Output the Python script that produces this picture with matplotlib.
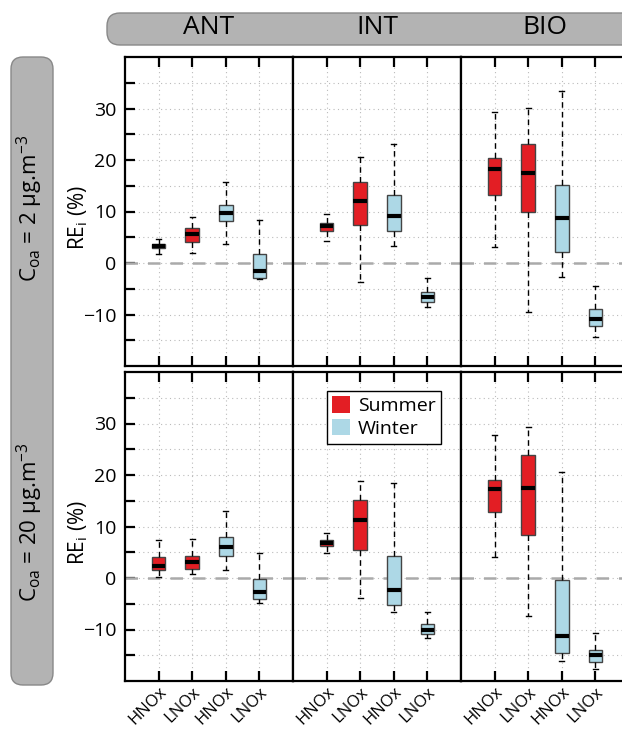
import numpy as np
import matplotlib
matplotlib.use("Agg")
from matplotlib import pyplot as plt
from matplotlib.patches import FancyBboxPatch, Patch

plt.rcParams['font.family'] = ['Open Sans', 'DejaVu Sans']
plt.rcParams['mathtext.default'] = 'regular'

regions = ["ANT", "INT", "BIO"]
rows = ["C$_{oa}$ = 2 µg.m$^{-3}$", "C$_{oa}$ = 20 µg.m$^{-3}$"]
xlabels = ["HNOx", "LNOx", "HNOx", "LNOx"]
seasons = ["Summer", "Summer", "Winter", "Winter"]

# per panel: [whislo, q1, med, q3, whishi] for HNOx-S, LNOx-S, HNOx-W, LNOx-W
stats_2 = {
    "ANT": [[1.8, 2.9, 3.3, 3.7, 4.7], [1.9, 4.0, 5.6, 6.8, 8.9],
            [3.7, 8.2, 9.7, 11.3, 15.7], [-3.2, -2.9, -1.6, 1.8, 8.4]],
    "INT": [[4.2, 6.2, 7.1, 7.7, 9.5], [-3.6, 7.3, 12.1, 15.8, 20.5],
            [3.3, 6.2, 9.2, 13.2, 23.2], [-8.5, -7.5, -6.6, -5.7, -3.0]],
    "BIO": [[3.1, 13.3, 18.3, 20.3, 29.4], [-9.5, 9.9, 17.5, 23.2, 30.1],
            [-2.7, 2.1, 8.8, 15.2, 33.4], [-14.3, -12.2, -10.9, -9.0, -4.5]],
}
stats_20 = {
    "ANT": [[0.2, 1.6, 2.3, 4.0, 7.4], [0.8, 1.7, 3.2, 4.2, 7.5],
            [1.6, 4.2, 6.0, 7.9, 13.1], [-4.8, -4.0, -2.7, -0.2, 4.9]],
    "INT": [[4.9, 6.2, 6.8, 7.3, 8.7], [-3.8, 5.5, 11.2, 15.2, 18.8],
            [-6.6, -5.3, -2.3, 4.3, 18.4], [-11.7, -10.8, -10.0, -9.0, -6.6]],
    "BIO": [[4.1, 12.8, 17.3, 19.1, 27.7], [-7.3, 8.4, 17.5, 23.8, 29.4],
            [-16.1, -14.6, -11.2, -0.3, 20.5], [-17.7, -16.4, -15.0, -13.9, -10.7]],
}

colors = {"Summer": "#e31e24", "Winter": "#add8e6"}

W, H = 622, 729
fig = plt.figure(figsize=(W / 100, H / 100), dpi=100)

# header bar and side bar (in inches)
hdr = FancyBboxPatch((1.10, 7.29 - 0.42), 5.5, 0.26,
                     boxstyle="round,pad=0.03,rounding_size=0.13",
                     transform=fig.dpi_scale_trans, facecolor="#b3b3b3",
                     edgecolor="#888888", lw=1, zorder=0)
fig.patches.append(hdr)
side = FancyBboxPatch((0.14, 0.47), 0.36, 6.22,
                      boxstyle="round,pad=0.03,rounding_size=0.12",
                      transform=fig.dpi_scale_trans, facecolor="#b3b3b3",
                      edgecolor="#888888", lw=1, zorder=0)
fig.patches.append(side)

lefts = [125, 293, 461]
tops = [57, 372]
pw, ph = 168, 309

for r, data in enumerate([stats_2, stats_20]):
    for c, reg in enumerate(regions):
        ax = fig.add_axes([lefts[c] / W, 1 - (tops[r] + ph) / H, pw / W, ph / H])
        bstats = []
        for s in data[reg]:
            bstats.append(dict(whislo=s[0], q1=s[1], med=s[2], q3=s[3], whishi=s[4]))
        bp = ax.bxp(bstats, positions=[1, 2, 3, 4], widths=0.4, patch_artist=True,
                    showfliers=False, capwidths=0.14,
                    boxprops=dict(edgecolor="#444444", lw=1),
                    medianprops=dict(color="black", lw=3, solid_capstyle="butt"),
                    whiskerprops=dict(color="black", lw=1, ls=(0, (4, 3))),
                    capprops=dict(color="black", lw=1))
        for box, s in zip(bp["boxes"], seasons):
            box.set_facecolor(colors[s])
        ax.axhline(0, color="#aaaaaa", lw=1.8, ls=(0, (5, 4)), zorder=1)
        ax.set_xlim(0, 5)
        ax.set_ylim(-20, 40)
        ax.set_yticks(np.arange(-15, 40, 5))
        ax.set_xticks([1, 2, 3, 4])
        ax.grid(True, color="#bbbbbb", ls=(0, (1, 3)), lw=0.8, zorder=0)
        ax.set_axisbelow(True)
        for sp in ax.spines.values():
            sp.set_linewidth(1.6)
        ax.tick_params(axis="x", direction="in", top=True, bottom=True,
                       length=7, width=1.6, pad=2)
        if c == 0:
            ax.tick_params(axis="y", direction="in", left=True, right=False,
                           length=7, width=1.6, labelsize=14, pad=6)
            ax.set_yticklabels(["" if v % 10 else str(v).replace("-", "\u2212")
                                for v in range(-15, 40, 5)])
            ax.set_ylabel("RE$_i$ (%)", fontsize=15)
            ax.yaxis.set_label_coords(-0.21, 0.48)
        else:
            ax.tick_params(axis="y", left=False, right=False, labelleft=False)
        if r == 1:
            ax.set_xticklabels(xlabels, rotation=45, ha="right", va="top",
                               rotation_mode="anchor", fontsize=12)
        else:
            ax.set_xticklabels([])
        if r == 1 and c == 1:
            handles = [Patch(facecolor=colors["Summer"], edgecolor="none"),
                       Patch(facecolor=colors["Winter"], edgecolor="none")]
            leg = ax.legend(handles, ["Summer", "Winter"], loc="upper left",
                            bbox_to_anchor=(0.2, 0.94), fontsize=14,
                            fancybox=False, framealpha=1, edgecolor="black",
                            handlelength=0.9, handleheight=0.9,
                            handletextpad=0.4, borderpad=0.3, labelspacing=0.2,
                            borderaxespad=0)
            leg.get_frame().set_linewidth(1)

for c, reg in enumerate(regions):
    fig.text((lefts[c] + pw / 2) / W, 1 - 28 / H, reg, ha="center",
             va="center", fontsize=19)

fig.text(30 / W, 1 - 208 / H, rows[0], rotation=90, ha="center",
         va="center", fontsize=16)
fig.text(30 / W, 1 - 522 / H, rows[1], rotation=90, ha="center",
         va="center", fontsize=16)

fig.savefig("out.png", dpi=100)
